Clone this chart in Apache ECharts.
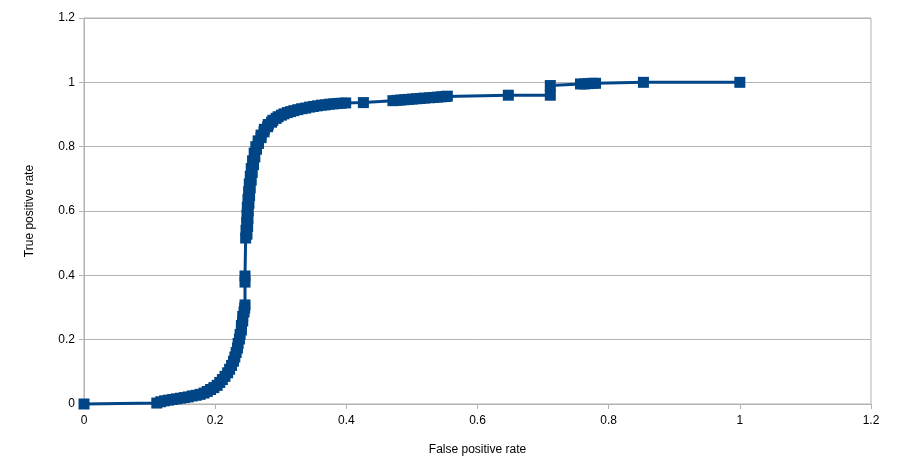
<!DOCTYPE html>
<html>
<head>
<meta charset="utf-8">
<script src="https://cdn.jsdelivr.net/npm/echarts@6/dist/echarts.min.js"></script>
<style>
html,body{margin:0;padding:0;background:#fff;}
#chart{width:898px;height:475px;}
</style>
</head>
<body>
<div id="chart"></div>
<script>
// ROC curve points
var fpr = [
  0.000,
  0.111, 0.117, 0.123, 0.129, 0.135, 0.141, 0.147, 0.153, 0.159, 0.165,
  0.171, 0.177, 0.183, 0.188, 0.193, 0.198, 0.203, 0.207, 0.211, 0.215,
  0.219, 0.222, 0.225, 0.228, 0.230, 0.232, 0.234, 0.235, 0.237, 0.238,
  0.240, 0.240, 0.242, 0.242, 0.244, 0.245, 0.2455,
  0.2455, 0.2455,
  0.2465, 0.2485, 0.2470, 0.2495, 0.2480, 0.2500, 0.2485, 0.2505, 0.2490, 0.2515,
  0.2500, 0.2525, 0.2510, 0.2535, 0.2520, 0.2550, 0.2535, 0.2565, 0.2550, 0.2585,
  0.2570, 0.2605, 0.2595, 0.2630, 0.2620, 0.2660, 0.2655, 0.2700, 0.2700, 0.2745,
  0.2750, 0.2800, 0.2810, 0.2860, 0.2880, 0.2930, 0.2960, 0.3010, 0.3050, 0.3100,
  0.3150, 0.3200, 0.3260, 0.3320, 0.3380, 0.3440, 0.3500, 0.3560, 0.3620, 0.3680,
  0.3740, 0.3800, 0.3860, 0.3920, 0.3990,
  0.426,
  0.471, 0.477, 0.483, 0.489, 0.495, 0.501, 0.507, 0.513, 0.519,
  0.527, 0.533, 0.539, 0.545, 0.551, 0.554,
  0.647, 0.711, 0.711,
  0.757, 0.763, 0.769, 0.775, 0.780,
  0.853, 1.000
];
var tpr = [
  0.000,
  0.003, 0.007, 0.010, 0.012, 0.014, 0.016, 0.018, 0.020, 0.022, 0.025,
  0.027, 0.030, 0.034, 0.039, 0.045, 0.051, 0.058, 0.067, 0.076, 0.086,
  0.097, 0.108, 0.120, 0.133, 0.146, 0.160, 0.174, 0.188, 0.202, 0.216,
  0.230, 0.244, 0.258, 0.272, 0.286, 0.298, 0.308,
  0.379, 0.398,
  0.516, 0.528, 0.540, 0.552, 0.564, 0.576, 0.588, 0.600, 0.612, 0.624,
  0.636, 0.648, 0.660, 0.672, 0.684, 0.696, 0.708, 0.720, 0.732, 0.744,
  0.756, 0.768, 0.780, 0.792, 0.800, 0.810, 0.818, 0.828, 0.836, 0.846,
  0.854, 0.862, 0.869, 0.876, 0.882, 0.888, 0.893, 0.898, 0.902, 0.906,
  0.909, 0.912, 0.915, 0.918, 0.920, 0.923, 0.925, 0.927, 0.929, 0.930,
  0.932, 0.933, 0.934, 0.935, 0.936,
  0.937,
  0.943, 0.944, 0.945, 0.946, 0.947, 0.948, 0.949, 0.950, 0.951,
  0.952, 0.953, 0.954, 0.955, 0.956, 0.957,
  0.960, 0.960, 0.990,
  0.995, 0.995, 0.996, 0.997, 0.997,
  1.000, 1.000
];
var axisTicks = [0, 0.2, 0.4, 0.6, 0.8, 1, 1.2];
var xTitle = 'False positive rate';
var yTitle = 'True positive rate';

var points = fpr.map(function (x, i) { return [x, tpr[i]]; });

var chart = echarts.init(document.getElementById('chart'), null, {renderer: 'canvas'});
var gray = '#b3b3b3';
var labelFont = {color: '#000', fontFamily: 'Liberation Sans', fontSize: 12};
function axisBase(title, gap) {
  return {
    type: 'value',
    min: axisTicks[0],
    max: axisTicks[axisTicks.length - 1],
    interval: axisTicks[1] - axisTicks[0],
    name: title,
    nameLocation: 'middle',
    nameGap: gap,
    nameTextStyle: {color: '#000', fontFamily: 'Liberation Sans', fontSize: 12},
    axisLine: {show: true, lineStyle: {color: gray, width: 1}},
    axisTick: {show: true, length: 5, lineStyle: {color: gray}},
    axisLabel: Object.assign({margin: 9}, labelFont),
    splitLine: {show: false}
  };
}
var xAxis = axisBase(xTitle, 40);
xAxis.axisLabel.margin = 11;
var yAxis = axisBase(yTitle, 48);
yAxis.splitLine = {show: true, lineStyle: {color: gray, width: 1}};

chart.setOption({
  animation: false,
  backgroundColor: '#fff',
  grid: {left: 84, right: 27, top: 18, bottom: 71, show: true, borderColor: gray, borderWidth: 1, backgroundColor: 'transparent'},
  xAxis: xAxis,
  yAxis: yAxis,
  series: [{
    type: 'line',
    data: points,
    symbol: 'rect',
    symbolSize: 11,
    showSymbol: true,
    showAllSymbol: true,
    color: '#004586',
    itemStyle: {color: '#004586'},
    lineStyle: {color: '#004586', width: 3},
    clip: false
  }]
});
</script>
</body>
</html>
